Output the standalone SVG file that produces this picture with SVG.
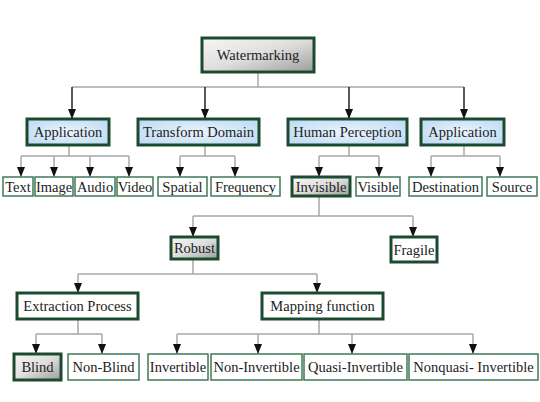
<svg xmlns="http://www.w3.org/2000/svg" width="540" height="402" viewBox="0 0 540 402" font-family="'Liberation Serif', 'Times New Roman', serif">
<defs>
<linearGradient id="gGray" x1="0" y1="0" x2="1" y2="1">
<stop offset="0" stop-color="#f7f7f7"/>
<stop offset="0.5" stop-color="#dedede"/>
<stop offset="1" stop-color="#9c9c9c"/>
</linearGradient>
<radialGradient id="gBlue" cx="0.5" cy="0.5" r="0.7">
<stop offset="0" stop-color="#eaf4fd"/>
<stop offset="1" stop-color="#bad9f3"/>
</radialGradient>
<marker id="arr" viewBox="0 0 10 8" markerWidth="10" markerHeight="8" refX="10" refY="4" orient="auto" markerUnits="userSpaceOnUse">
<path d="M0,0 L10,4 L0,8 z" fill="#111"/>
</marker>
<style>
.main{stroke:#1c4a31;stroke-width:3}
.leaf{fill:#fff;stroke:#3e7a58;stroke-width:1.5}
.blue{fill:url(#gBlue)}
.gray{fill:url(#gGray)}
.white{fill:#fff}
.lbl{font-family:'Liberation Serif','Times New Roman',serif;font-size:14.5px;fill:#222;text-anchor:middle}
.bus{fill:none;stroke:#a8a8a8;stroke-width:1.5}
.drop{fill:none;stroke:#a8a8a8;stroke-width:1.5;marker-end:url(#arr)}
.dark{fill:none;stroke:#222;stroke-width:1.5;marker-end:url(#arr)}
</style>
</defs>
<rect width="540" height="402" fill="#fff"/>
<g id="connectors">
<path class="bus" d="M258,72 V87 M72,87 H464"/>
<path class="dark" d="M72,87 V119"/>
<path class="dark" d="M205,87 V119"/>
<path class="dark" d="M349,87 V119"/>
<path class="dark" d="M464,87 V119"/>
<path class="bus" d="M69,145 V156 M21,156 H129"/>
<path class="drop" d="M21,156 V177"/>
<path class="drop" d="M54,156 V177"/>
<path class="drop" d="M90,156 V177"/>
<path class="drop" d="M129,156 V177"/>
<path class="bus" d="M205,145 V156 M180,156 H235"/>
<path class="drop" d="M180,156 V177"/>
<path class="drop" d="M235,156 V177"/>
<path class="bus" d="M349,145 V156 M319,156 H379"/>
<path class="drop" d="M319,156 V177"/>
<path class="drop" d="M379,156 V177"/>
<path class="bus" d="M464,145 V156 M431,156 H500"/>
<path class="drop" d="M431,156 V177"/>
<path class="drop" d="M500,156 V177"/>
<path class="bus" d="M319,196 V216 M193,216 H413"/>
<path class="drop" d="M193,216 V237"/>
<path class="drop" d="M413,216 V237"/>
<path class="bus" d="M193,259 V274 M78,274 H317"/>
<path class="drop" d="M78,274 V293"/>
<path class="drop" d="M317,274 V293"/>
<path class="bus" d="M78,319 V334 M36,334 H102"/>
<path class="drop" d="M36,334 V354"/>
<path class="drop" d="M102,334 V354"/>
<path class="bus" d="M319,319 V334 M177,334 H473"/>
<path class="drop" d="M177,334 V354"/>
<path class="drop" d="M258,334 V354"/>
<path class="drop" d="M352,334 V354"/>
<path class="drop" d="M473,334 V354"/>
</g>
<g id="watermarking"><rect class="main gray" x="202" y="38" width="112" height="34"/><text class="lbl" x="258" y="60">Watermarking</text></g>
<g id="application1"><rect class="main blue" x="27" y="119" width="82" height="26"/><text class="lbl" x="68" y="137">Application</text></g>
<g id="transform-domain"><rect class="main blue" x="138" y="119" width="121" height="26"/><text class="lbl" x="198.5" y="137">Transform Domain</text></g>
<g id="human-perception"><rect class="main blue" x="288" y="119" width="119" height="26"/><text class="lbl" x="347.5" y="137">Human Perception</text></g>
<g id="application2"><rect class="main blue" x="421" y="119" width="83" height="26"/><text class="lbl" x="462.5" y="137">Application</text></g>
<g id="text"><rect class="leaf" x="3" y="177" width="30" height="19"/><text class="lbl" x="18" y="191.5">Text</text></g>
<g id="image"><rect class="leaf" x="35" y="177" width="38" height="19"/><text class="lbl" x="54" y="191.5">Image</text></g>
<g id="audio"><rect class="leaf" x="75" y="177" width="40" height="19"/><text class="lbl" x="95" y="191.5">Audio</text></g>
<g id="video"><rect class="leaf" x="117" y="177" width="36" height="19"/><text class="lbl" x="135" y="191.5">Video</text></g>
<g id="spatial"><rect class="leaf" x="158" y="177" width="49" height="19"/><text class="lbl" x="182.5" y="191.5">Spatial</text></g>
<g id="frequency"><rect class="leaf" x="211" y="177" width="69" height="19"/><text class="lbl" x="245.5" y="191.5">Frequency</text></g>
<g id="invisible"><rect class="main gray" x="292" y="177" width="58" height="19"/><text class="lbl" x="321" y="191.5">Invisible</text></g>
<g id="visible"><rect class="leaf" x="356" y="177" width="44" height="19"/><text class="lbl" x="378" y="191.5">Visible</text></g>
<g id="destination"><rect class="leaf" x="409" y="177" width="73" height="19"/><text class="lbl" x="445.5" y="191.5">Destination</text></g>
<g id="source"><rect class="leaf" x="487" y="177" width="50" height="19"/><text class="lbl" x="512" y="191.5">Source</text></g>
<g id="robust"><rect class="main gray" x="171" y="237" width="47" height="22"/><text class="lbl" x="194.5" y="253">Robust</text></g>
<g id="fragile"><rect class="main white" x="391" y="237" width="46" height="25"/><text class="lbl" x="414" y="254.5">Fragile</text></g>
<g id="extraction-process"><rect class="main white" x="17" y="293" width="121" height="26"/><text class="lbl" x="77.5" y="311">Extraction Process</text></g>
<g id="mapping-function"><rect class="main white" x="262" y="293" width="121" height="26"/><text class="lbl" x="322.5" y="311">Mapping function</text></g>
<g id="blind"><rect class="main gray" x="14" y="354" width="47" height="26"/><text class="lbl" x="37.5" y="372">Blind</text></g>
<g id="non-blind"><rect class="leaf" x="68" y="354" width="71" height="26"/><text class="lbl" x="103.5" y="372">Non-Blind</text></g>
<g id="invertible"><rect class="leaf" x="148" y="354" width="60" height="26"/><text class="lbl" x="178" y="372">Invertible</text></g>
<g id="non-invertible"><rect class="leaf" x="211" y="354" width="91" height="26"/><text class="lbl" x="256.5" y="372">Non-Invertible</text></g>
<g id="quasi-invertible"><rect class="leaf" x="304" y="354" width="103" height="26"/><text class="lbl" x="355.5" y="372">Quasi-Invertible</text></g>
<g id="nonquasi-invertible"><rect class="leaf" x="409" y="354" width="129" height="26"/><text class="lbl" x="473.5" y="372">Nonquasi- Invertible</text></g>
</svg>
